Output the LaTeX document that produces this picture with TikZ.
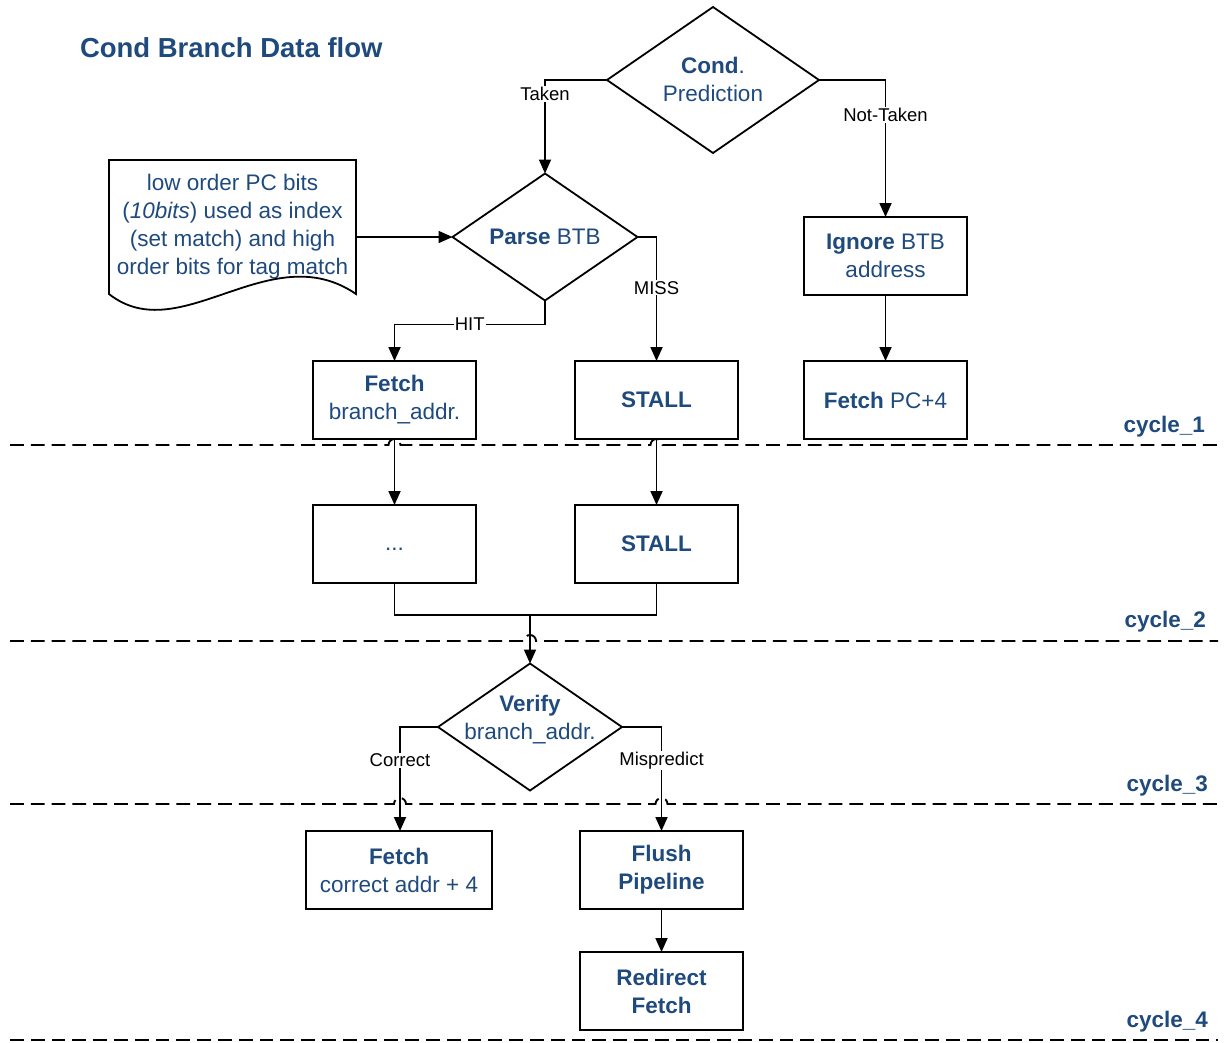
\documentclass[tikz,border=0pt]{standalone}
\usepackage{fontspec}
\setmainfont{Liberation Sans}
\usetikzlibrary{shapes.geometric,arrows.meta,calc}
\definecolor{ink}{HTML}{1F4A7E}

\begin{document}
\begin{tikzpicture}[x=1pt,y=-1pt,
  every node/.style={inner sep=0pt, outer sep=0pt},
  txt/.style={font=\fontsize{22.5}{28}\selectfont, text=ink, align=center},
  box/.style={draw, line width=1.8pt, rectangle, minimum width=163pt, minimum height=78pt},
  dec/.style={draw, line width=1.8pt, diamond},
  lbl/.style={font=\fontsize{18.5}{22}\selectfont, fill=white, inner sep=1pt},
  conn/.style={line width=1.8pt},
  arr/.style={conn, -{Triangle[length=14pt,width=12pt]}},
  cycleline/.style={line width=1.9pt, dash pattern=on 13.8pt off 7pt},
  cyclbl/.style={font=\fontsize{22.5}{28}\selectfont\bfseries, text=ink, anchor=east}
]
\useasboundingbox (0,0) rectangle (1225,1042);

% title
\node[anchor=west, font=\fontsize{27.5}{32}\selectfont\bfseries, text=ink] (title) at (80,48) {Cond Branch Data flow};

% decisions
\node[dec, minimum width=212pt, minimum height=146pt] (cond) at (713,80) {};
\node[txt] (condtxt) at (713,79) {\textbf{Cond}.\\Prediction};
\node[dec, minimum width=185pt, minimum height=127pt] (parse) at (545,237) {};
\node[txt] (parsetxt) at (545,237) {\textbf{Parse} BTB};
\node[dec, minimum width=184pt, minimum height=127pt] (verify) at (530,727) {};
\node[txt] (verifytxt) at (530,720) {\textbf{Verify}\\branch\_addr.};

% index / tag document
\node[txt, minimum width=247pt, minimum height=134pt] (doc) at (232.5,227)
  {low order PC bits\\(\textit{10bits}) used as index\\(set match) and high\\order bits for tag match};
\draw[line width=1.8pt] (doc.south west) -- (doc.north west) -- (doc.north east) -- (doc.south east)
  .. controls ($(doc.south east)+(-86,-59)$) and ($(doc.south west)+(71,56)$) .. (doc.south west) -- cycle;

% process boxes
\node[box, txt] (fb)   at (394.5,400) {\textbf{Fetch}\\branch\_addr.};
\node[box, txt] (st1)  at (656.5,400) {\textbf{STALL}};
\node[box, txt] (ign)  at (885.5,256) {\textbf{Ignore} BTB\\address};
\node[box, txt] (pc4)  at (885.5,400) {\textbf{Fetch} PC+4};
\node[box, txt, text height=16pt, text depth=4pt] (dots) at (394.5,544) {...};
\node[box, txt] (st2)  at (656.5,544) {\textbf{STALL}};
\node[box, txt, minimum width=186pt] (fc) at (399,870) {\textbf{Fetch}\\correct addr + 4};
\node[box, txt] (flush) at (661.5,870) {\textbf{Flush}\\\textbf{Pipeline}};
\node[box, txt] (redir) at (661.5,991) {\textbf{Redirect}\\\textbf{Fetch}};

% connectors
\draw[arr] (cond.west) -| node[lbl, pos=0.575] {Taken} (parse.north);
\draw[arr] (cond.east) -| node[lbl, pos=0.628] {Not-Taken} (ign.north);
\draw[arr] (ign.south) -- (pc4.north);
\draw[arr] (doc.east |- parse.west) -- (parse.west);
\draw[arr] (parse.east) -| node[lbl, pos=0.705] {MISS} (st1.north);
\draw[arr] (parse.south) -- ++(0,24) -| node[lbl, pos=0.25] {HIT} (fb.north);
\draw[arr] (fb.south) -- (dots.north);
\draw[arr] (st1.south) -- (st2.north);
\coordinate (merge) at (530,615);
\draw[conn] (dots.south) |- (merge) -| (st2.south);
\draw[arr] (merge) -- (verify.north);
\coordinate (cor) at (400,727);
\coordinate (mis) at (661.5,727);
\draw[arr] (verify.west) -- (cor) -- node[lbl, pos=0.32] {Correct} (fc.north -| cor);
\draw[arr] (verify.east) -- (mis) -- node[lbl, pos=0.32] {Mispredict} (flush.north);
\draw[arr] (flush.south) -- (redir.north);

% cycle boundaries, hopping over the connectors they cross
\coordinate (d1l) at (10,445);  \coordinate (d1r) at (1218,445);
\coordinate (d2l) at (10,641);  \coordinate (d2r) at (1218,641);
\coordinate (d3l) at (10,804);  \coordinate (d3r) at (1218,804);
\coordinate (d4l) at (10,1040); \coordinate (d4r) at (1218,1040);
\draw[cycleline] (d1l)
  -- ($(fb.south |- d1l)+(-6,0)$) arc[start angle=180, end angle=0, radius=6pt]
  -- ($(st1.south |- d1l)+(-6,0)$) arc[start angle=180, end angle=0, radius=6pt]
  -- (d1r);
\draw[cycleline] (d2l)
  -- ($(merge |- d2l)+(-6,0)$) arc[start angle=180, end angle=0, radius=6pt]
  -- (d2r);
\draw[cycleline] (d3l)
  -- ($(cor |- d3l)+(-6,0)$) arc[start angle=180, end angle=0, radius=6pt]
  -- ($(mis |- d3l)+(-6,0)$) arc[start angle=180, end angle=0, radius=6pt]
  -- (d3r);
\draw[cycleline] (d4l) -- (d4r);
\node[cyclbl] (cy1) at (1205,427) {cycle\_1};
\node[cyclbl] (cy2) at (1206,622) {cycle\_2};
\node[cyclbl] (cy3) at (1208,786) {cycle\_3};
\node[cyclbl] (cy4) at (1208,1022) {cycle\_4};
\end{tikzpicture}
\end{document}
